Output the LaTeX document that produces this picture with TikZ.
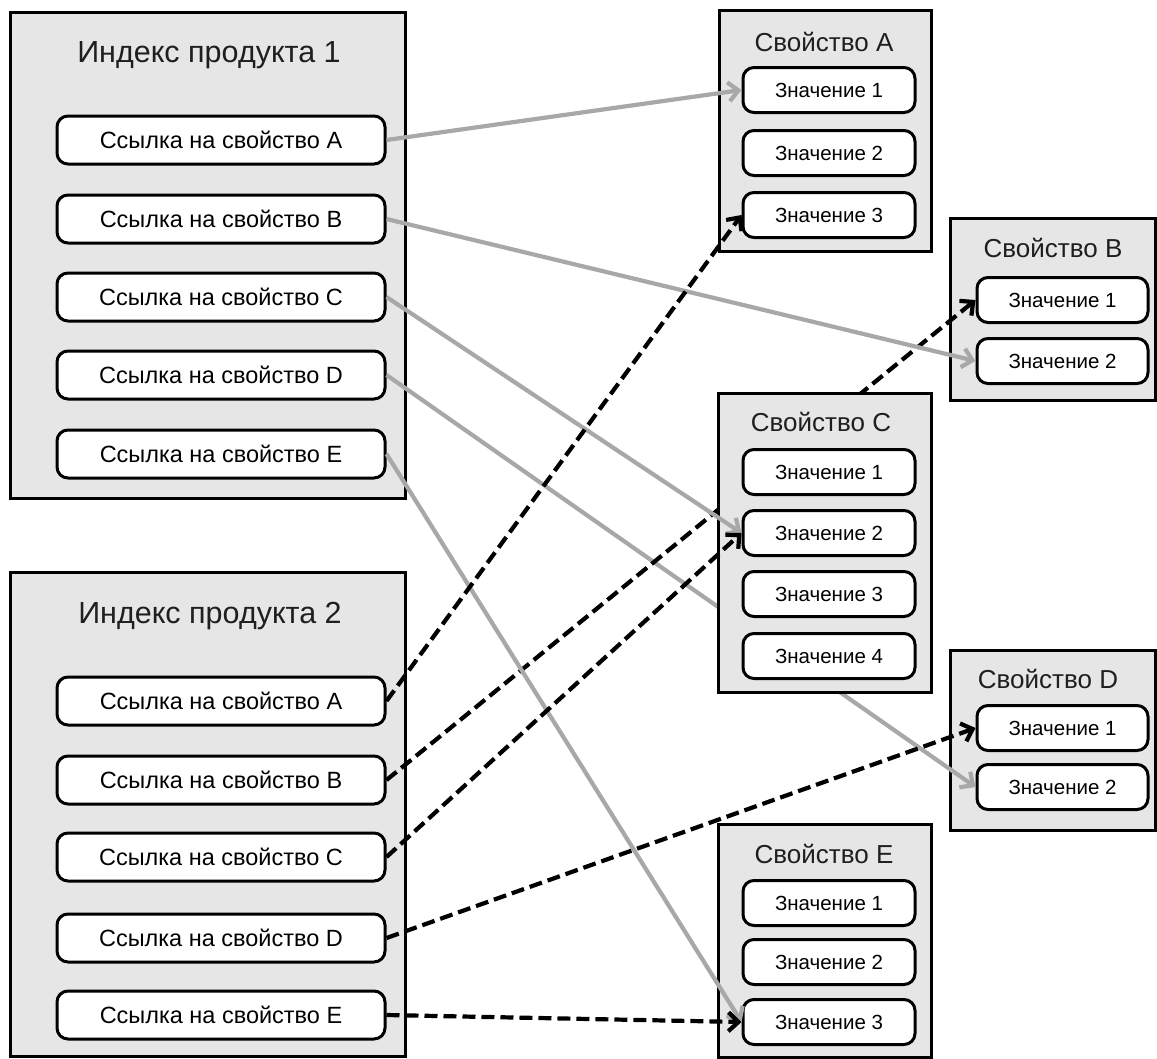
\documentclass[tikz,border=0pt]{standalone}
\usepackage{fontspec}
\setmainfont{Liberation Sans}
\usetikzlibrary{arrows.meta}
\definecolor{panelgray}{HTML}{E6E6E6}
\definecolor{linegray}{HTML}{A8A8A8}
\begin{document}
\begin{tikzpicture}[
                        x=1pt, y=-1pt,
                        >={Straight Barb[length=10pt,width=19pt]},
                        panel/.style={rectangle, draw, line width=3pt, fill=panelgray, inner sep=0pt},
                        linkbox/.style={rectangle, rounded corners=11pt, draw, line width=3pt, fill=white, minimum width=328pt, minimum height=48pt, font=\fontsize{23.5}{28}\selectfont},
                        valbox/.style={rectangle, rounded corners=11pt, draw, line width=3pt, fill=white, minimum height=45pt, font=\fontsize{20.5}{24}\selectfont},
                        bigtitle/.style={anchor=base, font=\fontsize{30.5}{36}\selectfont, text=black!88},
                        proptitle/.style={anchor=base, font=\fontsize{26}{31}\selectfont, text=black!88},
                        grayref/.style={->, draw=linegray, line width=4.2pt},
                        dashref/.style={->, draw=black, line width=4.2pt, dash pattern=on 13pt off 6pt}
                    ]
                    \useasboundingbox (0,0) rectangle (1157,1058);

                    % Blocks
                    \node [panel, minimum width=395pt, minimum height=486pt] (idx1) at (207.5,255) {};
                    \node [bigtitle] (idx1title) at (209,62) {Индекс продукта 1};
                    \node [linkbox] (idx1a) at (221,140) {Ссылка на свойство A};
                    \node [linkbox] (idx1b) at (221,219) {Ссылка на свойство B};
                    \node [linkbox] (idx1c) at (221,297) {Ссылка на свойство C};
                    \node [linkbox] (idx1d) at (221,375) {Ссылка на свойство D};
                    \node [linkbox] (idx1e) at (221,454) {Ссылка на свойство E};

                    \node [panel, minimum width=395pt, minimum height=484pt] (idx2) at (207.5,814) {};
                    \node [bigtitle] (idx2title) at (210,623) {Индекс продукта 2};
                    \node [linkbox] (idx2a) at (221,701) {Ссылка на свойство A};
                    \node [linkbox] (idx2b) at (221,780) {Ссылка на свойство B};
                    \node [linkbox] (idx2c) at (221,857) {Ссылка на свойство C};
                    \node [linkbox] (idx2d) at (221,938) {Ссылка на свойство D};
                    \node [linkbox] (idx2e) at (221,1015) {Ссылка на свойство E};

                    \node [panel, minimum width=212pt, minimum height=241pt] (propA) at (825,130.5) {};
                    \node [proptitle] (propAtitle) at (824,51) {Свойство A};
                    \node [valbox, minimum width=172pt] (propAv1) at (829,90) {Значение 1};
                    \node [valbox, minimum width=172pt] (propAv2) at (829,153) {Значение 2};
                    \node [valbox, minimum width=172pt] (propAv3) at (829,215) {Значение 3};

                    \node [panel, minimum width=205pt, minimum height=182pt] (propB) at (1052.5,309) {};
                    \node [proptitle] (propBtitle) at (1053,257) {Свойство B};
                    \node [valbox, minimum width=171pt] (propBv1) at (1062.5,300) {Значение 1};
                    \node [valbox, minimum width=171pt] (propBv2) at (1062.5,361) {Значение 2};

                    \node [panel, minimum width=205pt, minimum height=180pt] (propD) at (1052.5,740) {};
                    \node [proptitle] (propDtitle) at (1048,688) {Свойство D};
                    \node [valbox, minimum width=171pt] (propDv1) at (1062.5,728) {Значение 1};
                    \node [valbox, minimum width=171pt] (propDv2) at (1062.5,787) {Значение 2};

                    \node [panel, minimum width=213pt, minimum height=233pt] (propE) at (824.5,940.5) {};
                    \node [proptitle] (propEtitle) at (824,863) {Свойство E};
                    \node [valbox, minimum width=172pt] (propEv1) at (829,903) {Значение 1};
                    \node [valbox, minimum width=172pt] (propEv2) at (829,962) {Значение 2};
                    \node [valbox, minimum width=172pt] (propEv3) at (829,1022) {Значение 3};

                    % Connections running behind Свойство C
                    \draw [grayref] (idx1d.east) -- (propDv2.west);
                    \draw [dashref] (idx2b.east) -- (propBv1.west);

                    \node [panel, minimum width=213pt, minimum height=299pt] (propC) at (824.5,542.5) {};
                    \node [proptitle] (propCtitle) at (821,431) {Свойство C};
                    \node [valbox, minimum width=172pt] (propCv1) at (829,472) {Значение 1};
                    \node [valbox, minimum width=172pt] (propCv2) at (829,533) {Значение 2};
                    \node [valbox, minimum width=172pt] (propCv3) at (829,594) {Значение 3};
                    \node [valbox, minimum width=172pt] (propCv4) at (829,656) {Значение 4};

                    % Connections
                    \draw [grayref] (idx1a.east) -- (propAv1.west);
                    \draw [grayref] (idx1b.east) -- (propBv2.west);
                    \draw [grayref] (idx1c.east) -- (propCv2.west);
                    \draw [grayref] (idx1e.east) -- (propEv3.west);
                    \draw [dashref] (idx2a.east) -- (propAv3.west);
                    \draw [dashref] (idx2c.east) -- (propCv2.west);
                    \draw [dashref] (idx2d.east) -- (propDv1.west);
                    \draw [dashref] (idx2e.east) -- (propEv3.west);
                \end{tikzpicture}
\end{document}
